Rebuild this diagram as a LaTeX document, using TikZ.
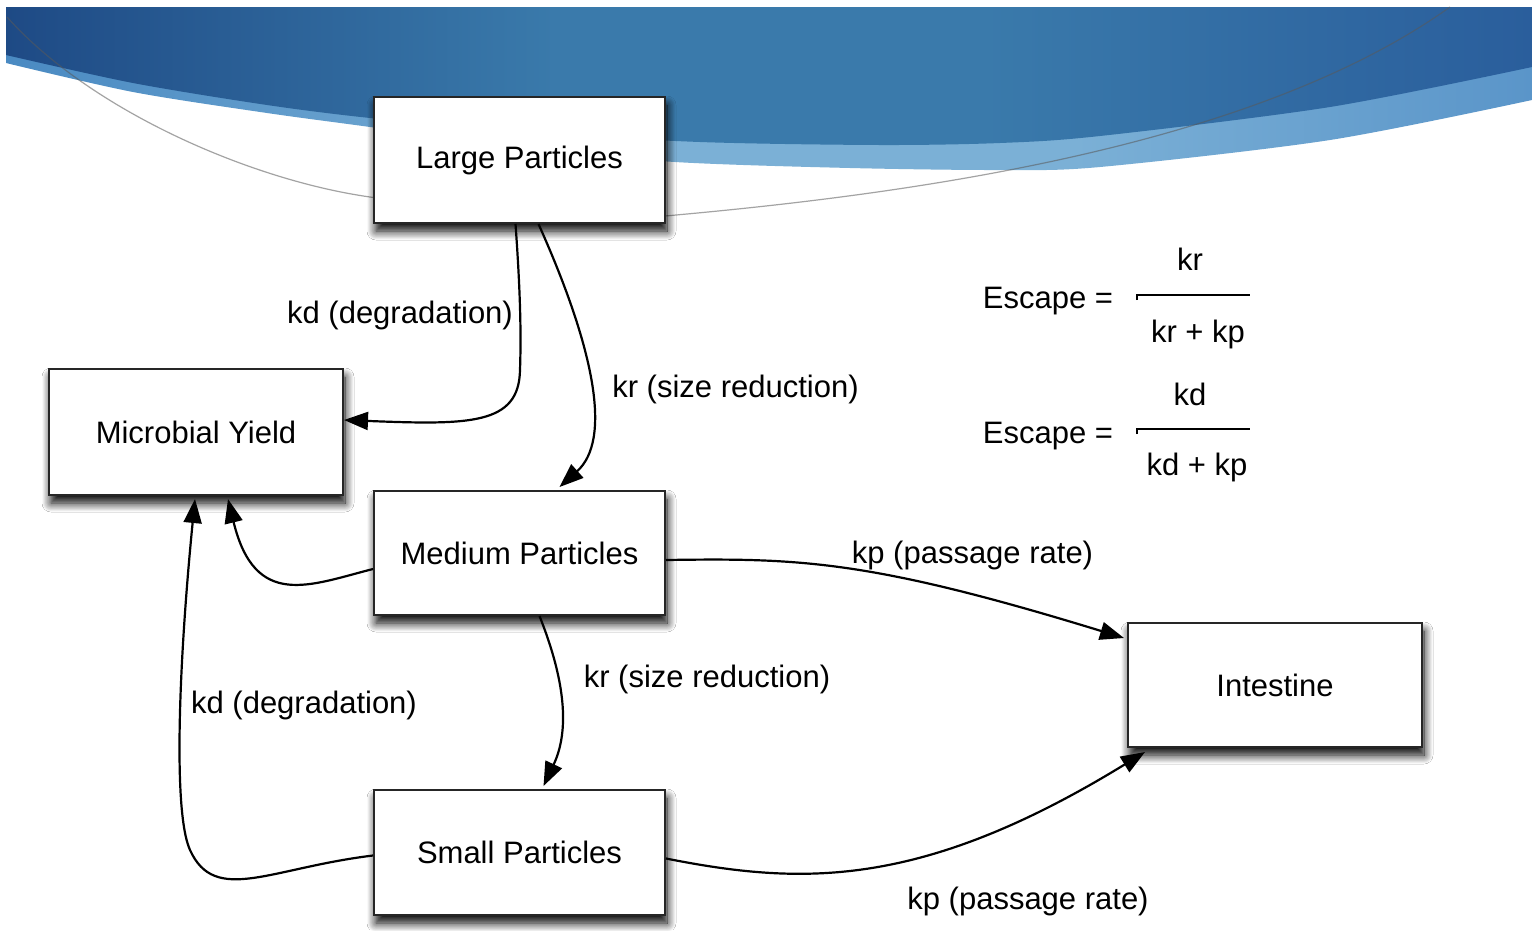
\documentclass[tikz,border=0pt]{standalone}
\usepackage{fontspec}
\setmainfont{Liberation Sans}
\usetikzlibrary{arrows.meta,shadows.blur}
\definecolor{bdA}{HTML}{1E4A85}
\definecolor{bdB}{HTML}{3A7AAB}
\definecolor{bdC}{HTML}{2A5E9C}
\definecolor{blA}{HTML}{4A8AC2}
\definecolor{blB}{HTML}{7BB0D6}
\definecolor{blC}{HTML}{5A95C9}
\pgfdeclarehorizontalshading{darkband}{100bp}{color(0bp)=(bdA); color(25bp)=(bdA); color(43bp)=(bdB); color(57bp)=(bdB); color(75bp)=(bdC); color(100bp)=(bdC)}
\pgfdeclarehorizontalshading{lightband}{100bp}{color(0bp)=(blA); color(25bp)=(blA); color(45bp)=(blB); color(60bp)=(blB); color(75bp)=(blC); color(100bp)=(blC)}
\begin{document}
\begin{tikzpicture}[x=1pt,y=-1pt,
  every node/.style={font=\fontsize{31}{36}\selectfont},
  box/.style={draw=black!85, line width=2pt, fill=white, inner sep=0pt,
    blur shadow={shadow xshift=2pt, shadow yshift=-8pt, shadow blur radius=9pt, shadow blur steps=12, shadow opacity=100}},
  arr/.style={line width=2.2pt, -{Triangle[length=24pt,width=18pt]}},
  lbl/.style={anchor=base, inner sep=0pt},
  fracbar/.style={line width=2pt}]
\useasboundingbox (0,0) rectangle (1532,930);
\fill[white] (0,0) rectangle (1532,930);
% banner
\shade[shading=lightband] (6,7) -- (1532,7) -- plot[smooth] coordinates {(1532,100) (1330,140) (1100,167) (1000,170) (850,168) (675,162) (520,148) (370,127) (267,113) (133,92) (6,63)} -- cycle;
\shade[shading=darkband] (6,7) -- (1532,7) -- plot[smooth] coordinates {(1532,67) (1330,107) (1100,136) (1000,143) (880,145) (700,142) (520,132) (370,118) (267,105) (133,83) (6,55)} -- cycle;
\draw[black!65, opacity=0.55, line width=1.2pt] (7,17) .. controls (90,110) and (250,180) .. (370,197) .. controls (440,207) and (600,222) .. (665,216) .. controls (900,195) and (1250,150) .. (1450,7);
% nodes
\node[box, minimum width=291pt, minimum height=126pt] (L) at (519.5,160) {Large Particles};
\node[box, minimum width=294pt, minimum height=126pt] (Y) at (196,432) {Microbial Yield};
\node[box, minimum width=291pt, minimum height=124pt] (Me) at (519.5,553) {Medium Particles};
\node[box, minimum width=294pt, minimum height=124pt] (I) at (1275,685) {Intestine};
\node[box, minimum width=291pt, minimum height=125pt] (S) at (519.5,852.5) {Small Particles};
% connectors
\draw[arr] ([xshift=-4pt]L.south) .. controls (521,300) and (521,340) .. (520,370) .. controls (519,425) and (470,425) .. ([yshift=12pt]Y.east);
\draw[arr] ([xshift=19pt]L.south) .. controls (595,350) and (612,440) .. ([xshift=40pt,yshift=3pt]Me.north);
\draw[arr] ([yshift=-16pt]Me.west) .. controls (310,585) and (255,610) .. ([xshift=32pt,yshift=-3pt]Y.south);
\draw[arr] ([yshift=-3pt]S.west) .. controls (270,868) and (215,905) .. (190,850) .. controls (172,810) and (180,650) .. ([xshift=-1pt,yshift=-3pt]Y.south);
\draw[arr] ([xshift=20pt]Me.south) .. controls (565,680) and (570,730) .. ([xshift=24pt,yshift=3pt]S.north);
\draw[arr] ([yshift=-7pt]Me.east) .. controls (800,558) and (870,560) .. ([xshift=-3pt,yshift=47pt]I.west);
\draw[arr] ([yshift=-6pt]S.east) .. controls (800,885) and (920,890) .. ([xshift=-130pt,yshift=-4pt]I.south);
% labels
\node[lbl] (l1) at (400,323) {kd (degradation)};
\node[lbl] (l2) at (735.5,397) {kr (size reduction)};
\node[lbl] (l3) at (304,713) {kd (degradation)};
\node[lbl] (l4) at (707,687) {kr (size reduction)};
\node[lbl] (l5) at (972.5,563) {kp (passage rate)};
\node[lbl] (l6) at (1028,909) {kp (passage rate)};
% formulas
\node[lbl] (e1) at (1048,308) {Escape =};
\node[lbl] (n1) at (1190,270) {kr};
\node[lbl] (d1) at (1198,342) {kr + kp};
\draw[fracbar] (1137,300) -- (1137,295) -- (1250,295);
\node[lbl] (e2) at (1048,443) {Escape =};
\node[lbl] (n2) at (1190,405) {kd};
\node[lbl] (d2) at (1197,475) {kd + kp};
\draw[fracbar] (1137,434) -- (1137,429) -- (1250,429);
\end{tikzpicture}
\end{document}
